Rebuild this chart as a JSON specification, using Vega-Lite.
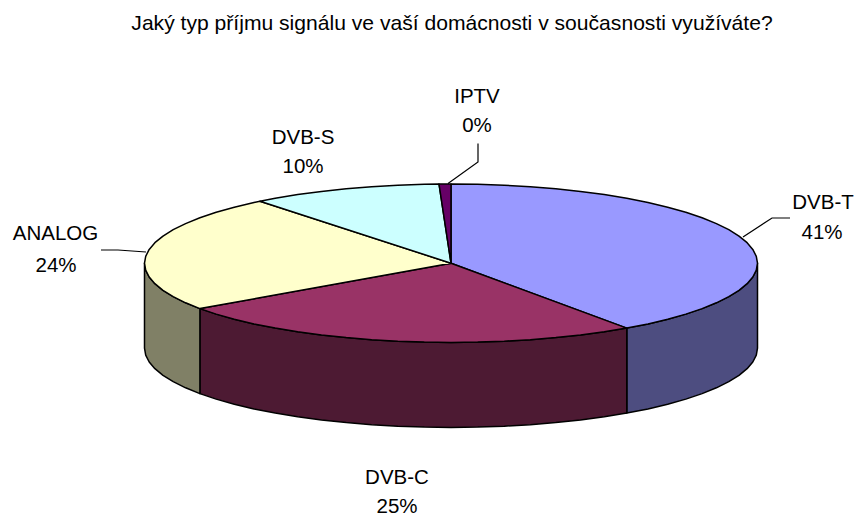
{"$schema":"https://vega.github.io/schema/vega-lite/v6.json","width":855,"height":514,"padding":0,"autosize":{"type":"none"},"background":"white","view":{"stroke":null},
"datasets":{"pie":[
{"p":"DVB-T side","i":0,"x":175.8,"y":64.9},{"p":"DVB-T side","i":1,"x":197,"y":60.7},{"p":"DVB-T side","i":2,"x":216.7,"y":56},{"p":"DVB-T side","i":3,"x":234.8,"y":50.9},{"p":"DVB-T side","i":4,"x":251.1,"y":45.4},{"p":"DVB-T side","i":5,"x":265.4,"y":39.6},{"p":"DVB-T side","i":6,"x":277.8,"y":33.5},{"p":"DVB-T side","i":7,"x":288,"y":27.1},{"p":"DVB-T side","i":8,"x":296.1,"y":20.5},{"p":"DVB-T side","i":9,"x":301.8,"y":13.8},{"p":"DVB-T side","i":10,"x":305.3,"y":6.9},{"p":"DVB-T side","i":11,"x":306.5,"y":0},{"p":"DVB-T side","i":12,"x":306.5,"y":85},{"p":"DVB-T side","i":13,"x":305.3,"y":91.9},{"p":"DVB-T side","i":14,"x":301.8,"y":98.8},{"p":"DVB-T side","i":15,"x":296.1,"y":105.5},{"p":"DVB-T side","i":16,"x":288,"y":112.1},{"p":"DVB-T side","i":17,"x":277.8,"y":118.5},{"p":"DVB-T side","i":18,"x":265.4,"y":124.6},{"p":"DVB-T side","i":19,"x":251.1,"y":130.4},{"p":"DVB-T side","i":20,"x":234.8,"y":135.9},{"p":"DVB-T side","i":21,"x":216.7,"y":141},{"p":"DVB-T side","i":22,"x":197,"y":145.7},{"p":"DVB-T side","i":23,"x":175.8,"y":149.9},{"p":"DVB-T side","i":24,"x":175.8,"y":64.9},
{"p":"DVB-C side","i":0,"x":175.8,"y":64.9},{"p":"DVB-C side","i":1,"x":153.3,"y":68.6},{"p":"DVB-C side","i":2,"x":129.5,"y":71.8},{"p":"DVB-C side","i":3,"x":104.8,"y":74.4},{"p":"DVB-C side","i":4,"x":79.3,"y":76.5},{"p":"DVB-C side","i":5,"x":53.2,"y":78},{"p":"DVB-C side","i":6,"x":26.7,"y":78.9},{"p":"DVB-C side","i":7,"x":0,"y":79.2},{"p":"DVB-C side","i":8,"x":-26.7,"y":78.9},{"p":"DVB-C side","i":9,"x":-53.2,"y":78},{"p":"DVB-C side","i":10,"x":-79.3,"y":76.5},{"p":"DVB-C side","i":11,"x":-104.8,"y":74.4},{"p":"DVB-C side","i":12,"x":-129.5,"y":71.8},{"p":"DVB-C side","i":13,"x":-153.3,"y":68.6},{"p":"DVB-C side","i":14,"x":-175.8,"y":64.9},{"p":"DVB-C side","i":15,"x":-197,"y":60.7},{"p":"DVB-C side","i":16,"x":-216.7,"y":56},{"p":"DVB-C side","i":17,"x":-234.8,"y":50.9},{"p":"DVB-C side","i":18,"x":-251.1,"y":45.4},{"p":"DVB-C side","i":19,"x":-251.1,"y":130.4},{"p":"DVB-C side","i":20,"x":-234.8,"y":135.9},{"p":"DVB-C side","i":21,"x":-216.7,"y":141},{"p":"DVB-C side","i":22,"x":-197,"y":145.7},{"p":"DVB-C side","i":23,"x":-175.8,"y":149.9},{"p":"DVB-C side","i":24,"x":-153.3,"y":153.6},{"p":"DVB-C side","i":25,"x":-129.5,"y":156.8},{"p":"DVB-C side","i":26,"x":-104.8,"y":159.4},{"p":"DVB-C side","i":27,"x":-79.3,"y":161.5},{"p":"DVB-C side","i":28,"x":-53.2,"y":163},{"p":"DVB-C side","i":29,"x":-26.7,"y":163.9},{"p":"DVB-C side","i":30,"x":0,"y":164.2},{"p":"DVB-C side","i":31,"x":26.7,"y":163.9},{"p":"DVB-C side","i":32,"x":53.2,"y":163},{"p":"DVB-C side","i":33,"x":79.3,"y":161.5},{"p":"DVB-C side","i":34,"x":104.8,"y":159.4},{"p":"DVB-C side","i":35,"x":129.5,"y":156.8},{"p":"DVB-C side","i":36,"x":153.3,"y":153.6},{"p":"DVB-C side","i":37,"x":175.8,"y":149.9},{"p":"DVB-C side","i":38,"x":175.8,"y":64.9},
{"p":"ANALOG side","i":0,"x":-251.1,"y":45.4},{"p":"ANALOG side","i":1,"x":-265.4,"y":39.6},{"p":"ANALOG side","i":2,"x":-277.8,"y":33.5},{"p":"ANALOG side","i":3,"x":-288,"y":27.1},{"p":"ANALOG side","i":4,"x":-296.1,"y":20.5},{"p":"ANALOG side","i":5,"x":-301.8,"y":13.8},{"p":"ANALOG side","i":6,"x":-305.3,"y":6.9},{"p":"ANALOG side","i":7,"x":-306.5,"y":0},{"p":"ANALOG side","i":8,"x":-306.5,"y":85},{"p":"ANALOG side","i":9,"x":-305.3,"y":91.9},{"p":"ANALOG side","i":10,"x":-301.8,"y":98.8},{"p":"ANALOG side","i":11,"x":-296.1,"y":105.5},{"p":"ANALOG side","i":12,"x":-288,"y":112.1},{"p":"ANALOG side","i":13,"x":-277.8,"y":118.5},{"p":"ANALOG side","i":14,"x":-265.4,"y":124.6},{"p":"ANALOG side","i":15,"x":-251.1,"y":130.4},{"p":"ANALOG side","i":16,"x":-251.1,"y":45.4},
{"p":"DVB-T","i":0,"x":0,"y":0},{"p":"DVB-T","i":1,"x":0,"y":-79.2},{"p":"DVB-T","i":2,"x":26.7,"y":-78.9},{"p":"DVB-T","i":3,"x":53.2,"y":-78},{"p":"DVB-T","i":4,"x":79.3,"y":-76.5},{"p":"DVB-T","i":5,"x":104.8,"y":-74.4},{"p":"DVB-T","i":6,"x":129.5,"y":-71.8},{"p":"DVB-T","i":7,"x":153.3,"y":-68.6},{"p":"DVB-T","i":8,"x":175.8,"y":-64.9},{"p":"DVB-T","i":9,"x":197,"y":-60.7},{"p":"DVB-T","i":10,"x":216.7,"y":-56},{"p":"DVB-T","i":11,"x":234.8,"y":-50.9},{"p":"DVB-T","i":12,"x":251.1,"y":-45.4},{"p":"DVB-T","i":13,"x":265.4,"y":-39.6},{"p":"DVB-T","i":14,"x":277.8,"y":-33.5},{"p":"DVB-T","i":15,"x":288,"y":-27.1},{"p":"DVB-T","i":16,"x":296.1,"y":-20.5},{"p":"DVB-T","i":17,"x":301.8,"y":-13.8},{"p":"DVB-T","i":18,"x":305.3,"y":-6.9},{"p":"DVB-T","i":19,"x":306.5,"y":0},{"p":"DVB-T","i":20,"x":305.3,"y":6.9},{"p":"DVB-T","i":21,"x":301.8,"y":13.8},{"p":"DVB-T","i":22,"x":296.1,"y":20.5},{"p":"DVB-T","i":23,"x":288,"y":27.1},{"p":"DVB-T","i":24,"x":277.8,"y":33.5},{"p":"DVB-T","i":25,"x":265.4,"y":39.6},{"p":"DVB-T","i":26,"x":251.1,"y":45.4},{"p":"DVB-T","i":27,"x":234.8,"y":50.9},{"p":"DVB-T","i":28,"x":216.7,"y":56},{"p":"DVB-T","i":29,"x":197,"y":60.7},{"p":"DVB-T","i":30,"x":175.8,"y":64.9},{"p":"DVB-T","i":31,"x":0,"y":0},
{"p":"DVB-C","i":0,"x":0,"y":0},{"p":"DVB-C","i":1,"x":175.8,"y":64.9},{"p":"DVB-C","i":2,"x":153.3,"y":68.6},{"p":"DVB-C","i":3,"x":129.5,"y":71.8},{"p":"DVB-C","i":4,"x":104.8,"y":74.4},{"p":"DVB-C","i":5,"x":79.3,"y":76.5},{"p":"DVB-C","i":6,"x":53.2,"y":78},{"p":"DVB-C","i":7,"x":26.7,"y":78.9},{"p":"DVB-C","i":8,"x":0,"y":79.2},{"p":"DVB-C","i":9,"x":-26.7,"y":78.9},{"p":"DVB-C","i":10,"x":-53.2,"y":78},{"p":"DVB-C","i":11,"x":-79.3,"y":76.5},{"p":"DVB-C","i":12,"x":-104.8,"y":74.4},{"p":"DVB-C","i":13,"x":-129.5,"y":71.8},{"p":"DVB-C","i":14,"x":-153.3,"y":68.6},{"p":"DVB-C","i":15,"x":-175.8,"y":64.9},{"p":"DVB-C","i":16,"x":-197,"y":60.7},{"p":"DVB-C","i":17,"x":-216.7,"y":56},{"p":"DVB-C","i":18,"x":-234.8,"y":50.9},{"p":"DVB-C","i":19,"x":-251.1,"y":45.4},{"p":"DVB-C","i":20,"x":0,"y":0},
{"p":"ANALOG","i":0,"x":0,"y":0},{"p":"ANALOG","i":1,"x":-251.1,"y":45.4},{"p":"ANALOG","i":2,"x":-265.4,"y":39.6},{"p":"ANALOG","i":3,"x":-277.8,"y":33.5},{"p":"ANALOG","i":4,"x":-288,"y":27.1},{"p":"ANALOG","i":5,"x":-296.1,"y":20.5},{"p":"ANALOG","i":6,"x":-301.8,"y":13.8},{"p":"ANALOG","i":7,"x":-305.3,"y":6.9},{"p":"ANALOG","i":8,"x":-306.5,"y":0},{"p":"ANALOG","i":9,"x":-305.3,"y":-6.9},{"p":"ANALOG","i":10,"x":-301.8,"y":-13.8},{"p":"ANALOG","i":11,"x":-296.1,"y":-20.5},{"p":"ANALOG","i":12,"x":-288,"y":-27.1},{"p":"ANALOG","i":13,"x":-277.8,"y":-33.5},{"p":"ANALOG","i":14,"x":-265.4,"y":-39.6},{"p":"ANALOG","i":15,"x":-251.1,"y":-45.4},{"p":"ANALOG","i":16,"x":-234.8,"y":-50.9},{"p":"ANALOG","i":17,"x":-216.7,"y":-56},{"p":"ANALOG","i":18,"x":-197,"y":-60.7},{"p":"ANALOG","i":19,"x":-191,"y":-61.9},{"p":"ANALOG","i":20,"x":0,"y":0},
{"p":"DVB-S","i":0,"x":0,"y":0},{"p":"DVB-S","i":1,"x":-191,"y":-61.9},{"p":"DVB-S","i":2,"x":-175.8,"y":-64.9},{"p":"DVB-S","i":3,"x":-153.3,"y":-68.6},{"p":"DVB-S","i":4,"x":-129.5,"y":-71.8},{"p":"DVB-S","i":5,"x":-104.8,"y":-74.4},{"p":"DVB-S","i":6,"x":-79.3,"y":-76.5},{"p":"DVB-S","i":7,"x":-53.2,"y":-78},{"p":"DVB-S","i":8,"x":-26.7,"y":-78.9},{"p":"DVB-S","i":9,"x":-12,"y":-79.2},{"p":"DVB-S","i":10,"x":0,"y":0},
{"p":"IPTV","i":0,"x":0,"y":0},{"p":"IPTV","i":1,"x":-12,"y":-79.2},{"p":"IPTV","i":2,"x":0,"y":-79.2},{"p":"IPTV","i":3,"x":0,"y":0}
],
"leaders":[
{"s":"DVB-T","i":0,"x":292,"y":-26.2},{"s":"DVB-T","i":1,"x":321,"y":-45.2},{"s":"DVB-T","i":2,"x":339,"y":-45.2},
{"s":"ANALOG","i":0,"x":-350,"y":-13.2},{"s":"ANALOG","i":1,"x":-333,"y":-13.2},{"s":"ANALOG","i":2,"x":-305,"y":-11.2},
{"s":"IPTV","i":0,"x":27,"y":-119.7},{"s":"IPTV","i":1,"x":27,"y":-101.2},{"s":"IPTV","i":2,"x":-3,"y":-79.7}
],
"labels":[
{"t":"Jaký typ příjmu signálu ve vaší domácnosti v současnosti využíváte?","x":1,"y":-239.2},
{"t":"DVB-T","x":372,"y":-60.2},{"t":"41%","x":371,"y":-30.2},
{"t":"ANALOG","x":-395.5,"y":-28.9},{"t":"24%","x":-395,"y":2.3},
{"t":"IPTV","x":26,"y":-166.5},{"t":"0%","x":26,"y":-137.2},
{"t":"DVB-S","x":-148,"y":-125.5},{"t":"10%","x":-148,"y":-96.5},
{"t":"DVB-C","x":-54,"y":214.5},{"t":"25%","x":-54,"y":243.5}
]},
"layer":[
{"data":{"name":"pie"},"mark":{"type":"line","stroke":"#000000","strokeWidth":1.5,"strokeJoin":"round"},"encoding":{
"x":{"field":"x","type":"quantitative","scale":{"domain":[-451,404],"nice":false,"zero":false},"axis":null},
"y":{"field":"y","type":"quantitative","scale":{"domain":[-263.2,250.8],"reverse":true,"nice":false,"zero":false},"axis":null},
"order":{"field":"i","type":"quantitative"},
"detail":{"field":"p"},
"fill":{"field":"p","type":"nominal","legend":null,"sort":null,"scale":{"domain":["DVB-T","DVB-C","ANALOG","DVB-S","IPTV","DVB-T side","DVB-C side","ANALOG side"],"range":["#9999FF","#993366","#FFFFCC","#CCFFFF","#660066","#4D4D80","#4D1A33","#808066"]}}}},
{"data":{"name":"leaders"},"mark":{"type":"line","stroke":"#000000","strokeWidth":1.2,"fill":null},"encoding":{
"x":{"field":"x","type":"quantitative","axis":null},
"y":{"field":"y","type":"quantitative","axis":null},
"order":{"field":"i","type":"quantitative"},"detail":{"field":"s"}}},
{"data":{"name":"labels"},"transform":[{"filter":"datum.y>-200"}],"mark":{"type":"text","font":"Liberation Sans","fontSize":20.5,"color":"#000000","align":"center","baseline":"middle"},"encoding":{
"x":{"field":"x","type":"quantitative","axis":null},
"y":{"field":"y","type":"quantitative","axis":null},
"text":{"field":"t"}}},
{"data":{"name":"labels"},"transform":[{"filter":"datum.y<-200"}],"mark":{"type":"text","font":"Liberation Sans","fontSize":21.1,"color":"#000000","align":"center","baseline":"middle"},"encoding":{
"x":{"field":"x","type":"quantitative","axis":null},
"y":{"field":"y","type":"quantitative","axis":null},
"text":{"field":"t"}}}
]}
